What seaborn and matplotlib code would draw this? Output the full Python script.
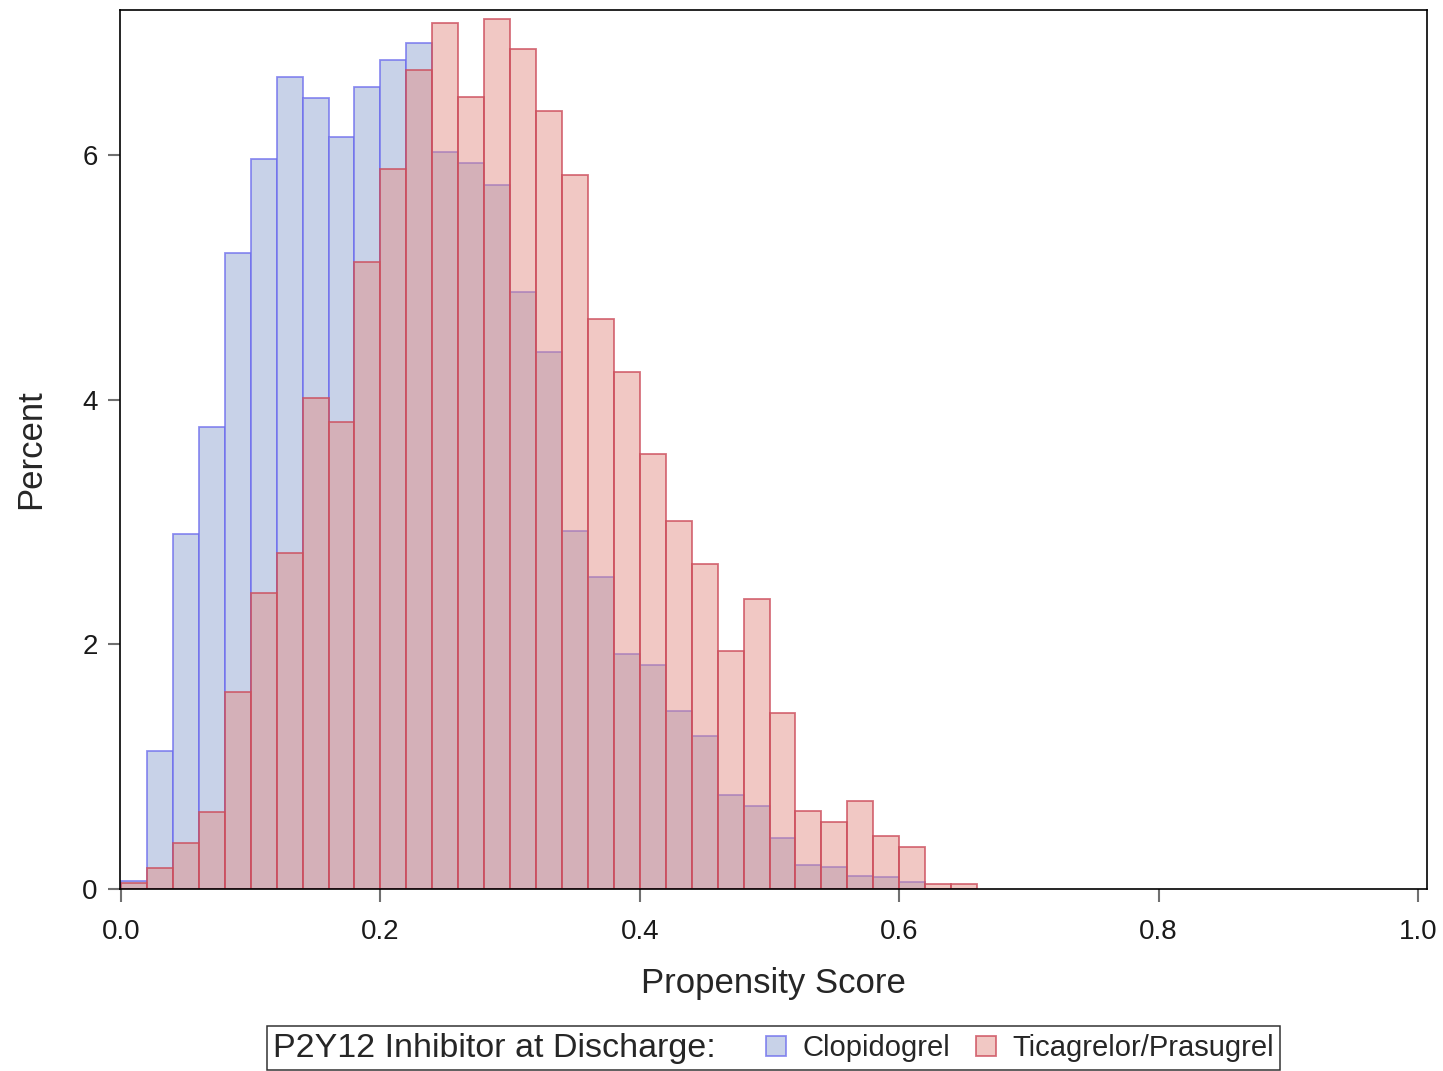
"""
Propensity score distribution by P2Y12 inhibitor at discharge.
Overlaid percent histograms, bin width 0.02.
"""

import numpy as np
import pandas as pd
import matplotlib
matplotlib.use("Agg")
import matplotlib.pyplot as plt
from matplotlib.patches import Patch
from matplotlib.offsetbox import HPacker
import seaborn as sns

# --- data (percent per 0.02 bin) ---
bin_width = 0.02
bin_starts = np.round(np.arange(0.0, 0.66, bin_width), 2)

clopidogrel_pct = [
    0.065, 1.13, 2.90, 3.78, 5.20, 5.97, 6.64, 6.47, 6.15, 6.56,
    6.78, 6.92, 6.03, 5.94, 5.76, 4.88, 4.39, 2.93, 2.55, 1.92,
    1.83, 1.46, 1.25, 0.77, 0.68, 0.42, 0.20, 0.18, 0.11, 0.10,
    0.06, 0.0, 0.0,
]
ticagrelor_pct = [
    0.05, 0.17, 0.38, 0.63, 1.61, 2.42, 2.75, 4.02, 3.82, 5.13,
    5.89, 6.70, 7.08, 6.48, 7.12, 6.87, 6.36, 5.84, 4.66, 4.23,
    3.56, 3.01, 2.66, 1.95, 2.37, 1.44, 0.64, 0.55, 0.72, 0.43,
    0.34, 0.04, 0.04,
]
groups = ["Clopidogrel", "Ticagrelor/Prasugrel"]
legend_title = "P2Y12 Inhibitor at Discharge:"
x_ticks = [0.0, 0.2, 0.4, 0.6, 0.8, 1.0]
y_ticks = [0, 2, 4, 6]

face_colors = {"Clopidogrel": "#c8d2e8", "Ticagrelor/Prasugrel": "#e38a82"}
face_alpha = {"Clopidogrel": 1.0, "Ticagrelor/Prasugrel": 0.47}
edge_colors = {"Clopidogrel": (0.42, 0.42, 0.93, 0.75),
               "Ticagrelor/Prasugrel": (0.80, 0.30, 0.36, 0.80)}

df = pd.DataFrame({
    "score": np.concatenate([bin_starts + bin_width / 2] * 2),
    "percent": clopidogrel_pct + ticagrelor_pct,
    "group": [groups[0]] * len(bin_starts) + [groups[1]] * len(bin_starts),
})
# list, not array: seaborn compares bins == "auto" when weights are given
edges = [round(float(b), 2) for b in bin_starts] + [round(float(bin_starts[-1] + bin_width), 2)]

sns.set_style("white")
plt.rcParams["font.family"] = ["Liberation Sans", "DejaVu Sans"]

fig = plt.figure(figsize=(14.43, 10.71), dpi=100)
ax = fig.add_axes([120 / 1443, 1 - 889 / 1071, 1307 / 1443, 879 / 1071])

for g in groups:
    sns.histplot(
        data=df[df["group"] == g], x="score", weights="percent",
        bins=edges, color=face_colors[g], alpha=face_alpha[g],
        edgecolor=edge_colors[g], linewidth=1.3, ax=ax,
    )

ax.set_xlim(-0.0008, 1.0069)
ax.set_ylim(0, 7.19)
ax.set_xticks(x_ticks)
ax.set_xticklabels([f"{t:.1f}" for t in x_ticks])
ax.set_yticks(y_ticks)
ax.tick_params(axis="both", bottom=True, left=True, direction="out",
               length=9, width=1.5, color="#707070", labelsize=20,
               labelcolor="#1a1a1a", pad=7)
ax.tick_params(axis="x", pad=12.5)
ax.set_xlabel("Propensity Score", fontsize=25, labelpad=16)
ax.set_ylabel("Percent", fontsize=25, labelpad=25)
for sp in ax.spines.values():
    sp.set_visible(True)
    sp.set_color("black")
    sp.set_linewidth(1.2)

# --- legend: title inline to the left of the entries ---
handles = [Patch(facecolor=matplotlib.colors.to_rgba(face_colors[g], face_alpha[g]),
                 edgecolor=edge_colors[g], linewidth=1.3) for g in groups]
leg = fig.legend(handles, groups, ncol=2, loc="lower center",
                 bbox_to_anchor=(773.5 / 1443, 0.001), fontsize=21,
                 frameon=True, fancybox=False, edgecolor="black",
                 handlelength=0.68, handleheight=0.68, handletextpad=0.55,
                 columnspacing=0.9, borderpad=0.22, borderaxespad=0)
leg.set_title(legend_title, prop={"size": 24.5})
leg.get_frame().set_linewidth(1.1)
old_box = leg._legend_box
new_box = HPacker(pad=old_box.pad, sep=36, align="center",
                  children=[leg._legend_title_box, leg._legend_handle_box])
new_box.set_figure(fig)
new_box.axes = None
leg._legend_box = new_box
new_box.set_offset(leg._findoffset)

fig.savefig("out.png", dpi=100)
